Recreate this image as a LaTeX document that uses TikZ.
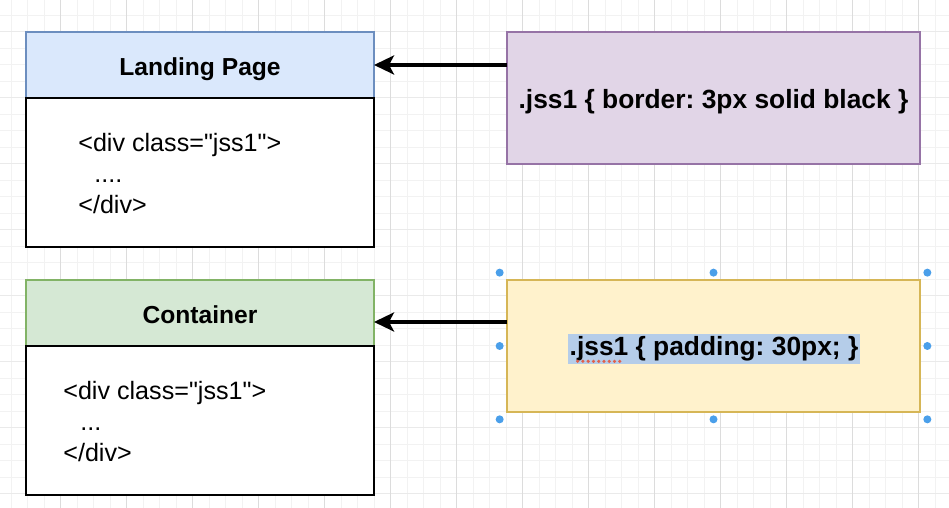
\documentclass[tikz,border=0pt]{standalone}
\usepackage{fontspec}
\setmainfont{Liberation Sans}[Ligatures=TeXOff]
\usetikzlibrary{arrows.meta}
\usetikzlibrary{positioning}
\usetikzlibrary{fit}
\frenchspacing
\definecolor{gridminor}{HTML}{F2F2F2}
\definecolor{gridmajorv}{HTML}{DCDCDC}
\definecolor{gridmajorh}{HTML}{EAEAEA}
\definecolor{lheadfill}{HTML}{DAE8FC}
\definecolor{lheadline}{HTML}{6C8EBF}
\definecolor{cheadfill}{HTML}{D5E8D4}
\definecolor{cheadline}{HTML}{82B366}
\definecolor{purplefill}{HTML}{E1D5E7}
\definecolor{purpleline}{HTML}{9673A6}
\definecolor{yellowfill}{HTML}{FFF2CC}
\definecolor{yellowline}{HTML}{D6B656}
\definecolor{selblue}{HTML}{B5CDE9}
\definecolor{handleblue}{HTML}{4A9FEA}
\definecolor{spellred}{HTML}{E0604C}
\tikzset{
	headbox/.style={draw, minimum width=6.96cm, minimum height=1.32cm, inner sep=0pt, outer sep=0pt, line width=0.6pt, text height=11.5pt, text depth=0pt, font=\fontsize{14}{17}\selectfont\bfseries},
	bodybox/.style={draw=black, fill=white, minimum width=6.96cm, minimum height=2.98cm, inner sep=0pt, outer sep=0pt, line width=0.8pt},
	codetext/.style={align=left, anchor=west, inner sep=0pt, font=\fontsize{14.3}{17.9}\selectfont},
	cssbox/.style={draw, minimum width=8.26cm, minimum height=2.64cm, inner sep=0pt, outer sep=0pt, line width=0.6pt, text height=11.5pt, text depth=0pt, font=\fontsize{15}{18}\selectfont\bfseries},
	pointer/.style={line width=2pt, -{Stealth[length=0.4cm,width=0.38cm,inset=0.1cm]}},
	handle/.style={fill=handleblue},
}
\begin{document}
\begin{tikzpicture}
	\useasboundingbox (0,0) rectangle (18.98,10.16);
	\fill[white] (0,0) rectangle (18.98,10.16);
	% grid
	\foreach \i in {0,...,56} \draw[gridminor,line width=0.5pt] ({0.224+0.33*\i},0) -- ++(0,10.16);
	\foreach \j in {0,...,29} \draw[gridminor,line width=0.5pt] (0,{9.86-0.33*\j}) -- ++(18.98,0);
	\foreach \j in {0,...,7} \draw[gridmajorh,line width=0.5pt] (0,{9.53-1.32*\j}) -- ++(18.98,0);
	\foreach \i in {0,...,13} \draw[gridmajorv,line width=0.5pt] ({1.214+1.32*\i},0) -- ++(0,10.16);
	% left column
	\node[headbox, draw=lheadline, fill=lheadfill] (lhead) at (4.00,8.86) {Landing Page};
	\node[bodybox, below=0pt of lhead] (lbody) {};
	\node[codetext] (lcode) at (1.56,6.69) {<div class="jss1">\\ \hspace*{0.32cm}....\\ </div>};
	\node[headbox, draw=cheadline, fill=cheadfill] (chead) at (4.00,3.90) {Container};
	\node[bodybox, below=0pt of chead] (cbody) {};
	\node[codetext] (ccode) at (1.26,1.73) {<div class="jss1">\\ \hspace*{0.34cm}...\\ </div>};
	% right column
	\node[cssbox, draw=purpleline, fill=purplefill] (css1) at (14.27,8.20) {.jss1 \{ border: 3px solid black \}};
	\node[cssbox, draw=yellowline, fill=yellowfill] (css2) at (14.27,3.24) {};
	\node[fit=(css2), inner sep=0.14cm] (sel) {};
	\foreach \a in {north west,north,north east,west,east,south west,south,south east}
		\fill[handle] (sel.\a) circle (0.08cm);
	\node[fill=selblue, inner xsep=1pt, inner ysep=0pt, minimum height=0.6cm, font=\fontsize{15}{18}\selectfont\bfseries] (csstext) at (14.28,3.18) {.jss1 \{ padding: 30px; \}};
	\draw[spellred, line width=2pt, line cap=round, dash pattern=on 0pt off 3pt] ([xshift=0.2cm,yshift=0.06cm]csstext.south west) -- ++(0.94,0);
	% arrows
	\coordinate (cmid) at ([yshift=-0.18cm]chead.east);
	\draw[pointer] (css1.west |- lhead.east) -- (lhead.east);
	\draw[pointer] (css2.west |- cmid) -- (cmid);
\end{tikzpicture}
\end{document}
